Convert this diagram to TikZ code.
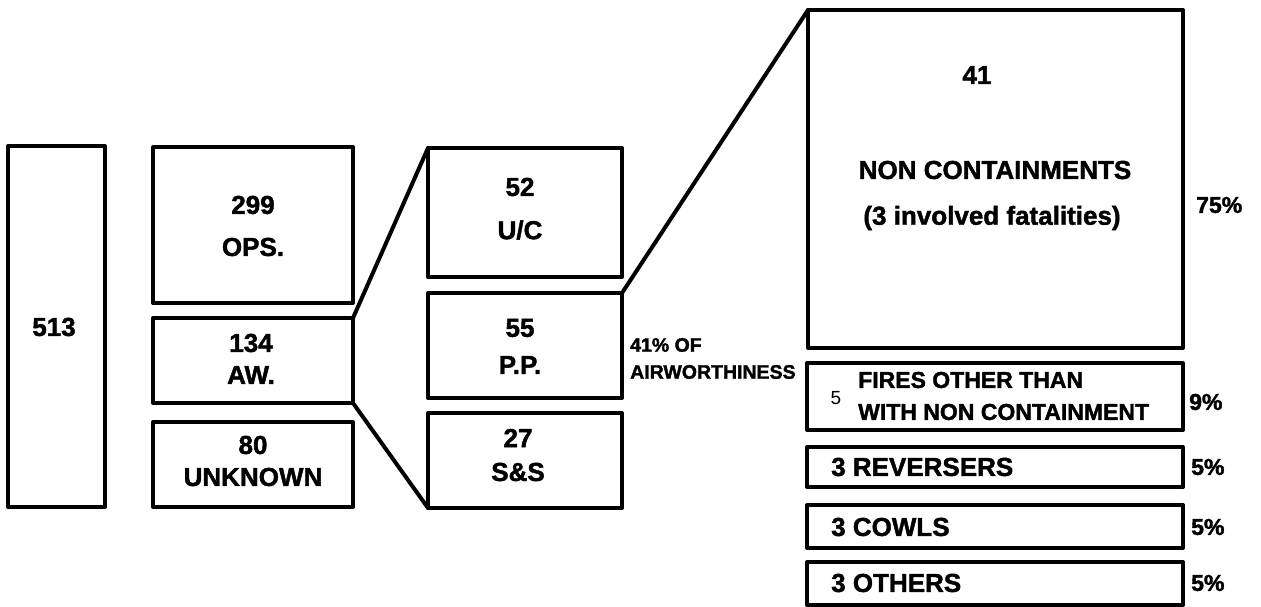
\documentclass[tikz,border=0pt]{standalone}
\usepackage{fontspec}
\setmainfont{Liberation Sans}[BoldFeatures={FakeBold=1.6}]
\begin{document}
\begin{tikzpicture}[x=1pt,y=-1pt,
  box/.style={draw,line width=4pt,inner sep=0pt,outer sep=0pt,line join=round},
  link/.style={line width=4pt,line cap=round},
  big/.style={font=\bfseries\fontsize{26}{30}\selectfont,inner sep=0pt},
  mid/.style={font=\bfseries\fontsize{23}{26}\selectfont,inner sep=0pt},
  small/.style={font=\bfseries\fontsize{19.5}{22}\selectfont,inner sep=0pt},
  pct/.style={font=\bfseries\fontsize{23}{26}\selectfont,inner sep=0pt,anchor=west}]
\useasboundingbox (0,0) rectangle (1261,607);
% boxes
\node[box,minimum width=97pt,minimum height=361pt] (total) at (56.5,326.5) {};
\node[box,minimum width=200pt,minimum height=156pt] (ops) at (253,225) {};
\node[box,minimum width=200pt,minimum height=85pt] (aw) at (253,360.5) {};
\node[box,minimum width=200pt,minimum height=85pt] (unk) at (253,464.5) {};
\node[box,minimum width=194pt,minimum height=129pt] (uc) at (525,212.5) {};
\node[box,minimum width=194pt,minimum height=105pt] (pp) at (525,345.5) {};
\node[box,minimum width=194pt,minimum height=95pt] (ss) at (525,460.5) {};
\node[box,minimum width=375pt,minimum height=338pt] (nc) at (995.5,179) {};
\node[box,minimum width=376pt,minimum height=67pt] (fires) at (995,396.5) {};
\node[box,minimum width=376pt,minimum height=40pt] (rev) at (995,467) {};
\node[box,minimum width=376pt,minimum height=43pt] (cowls) at (995,526.5) {};
\node[box,minimum width=376pt,minimum height=43pt] (others) at (995,583.5) {};
% connectors
\draw[link] (aw.north east) -- (uc.north west);
\draw[link] (aw.south east) -- (ss.south west);
\draw[link] (pp.north east) -- (nc.north west);
% texts
\node[big] (t513) at (54,327) {513};
\node[big] (t299) at (253,205) {299};
\node[big] (tops) at (253,247) {OPS.};
\node[big] (t134) at (251,343) {134};
\node[big] (taw) at (251,375) {AW.};
\node[big] (t80) at (253,445) {80};
\node[big] (tunk) at (253,477) {UNKNOWN};
\node[big] (t52) at (520,187) {52};
\node[big] (tuc) at (520,230) {U/C};
\node[big] (t55) at (520,328) {55};
\node[big] (tpp) at (520,365) {P.P.};
\node[big] (t27) at (518,438) {27};
\node[big] (tss) at (518,472) {S\&S};
\node[small,anchor=west] (t41of) at (630,345) {41\% OF};
\node[small,anchor=west] (tairw) at (630,372) {AIRWORTHINESS};
\node[big] (t41) at (977,75) {41};
\node[big] (tnc) at (995,170) {NON CONTAINMENTS};
\node[big] (tfat) at (992,218) {(3 involved fatalities)};
\node[font=\fontsize{19}{22}\selectfont,inner sep=0pt] (t5) at (836,398) {5};
\node[mid,anchor=west] (tfires1) at (858,380) {FIRES OTHER THAN};
\node[mid,anchor=west] (tfires2) at (858,412) {WITH NON CONTAINMENT};
\node[big,anchor=west] (trev) at (831,467) {3 REVERSERS};
\node[big,anchor=west] (tcow) at (831,527) {3 COWLS};
\node[big,anchor=west] (toth) at (831,583) {3 OTHERS};
\node[pct] (p75) at (1196,205) {75\%};
\node[pct] (p9) at (1189,402) {9\%};
\node[pct] (p5a) at (1191,467) {5\%};
\node[pct] (p5b) at (1191,527) {5\%};
\node[pct] (p5c) at (1191,583) {5\%};
\end{tikzpicture}
\end{document}
